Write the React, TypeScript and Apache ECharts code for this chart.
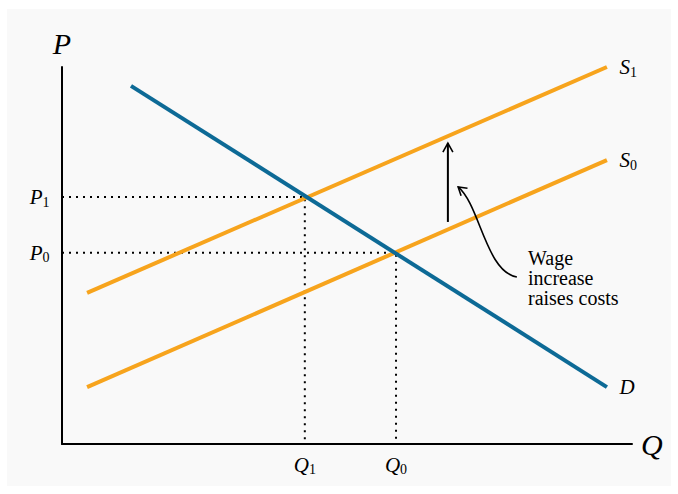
import React, { useEffect, useRef } from "react";
import * as echarts from "echarts";

// Curves (quantity, price) in axis units 0..100
const demandCurve: number[][] = [[12.1, 95.0], [95.6, 15.1]];
const supplyCurve0: number[][] = [[4.4, 15.1], [95.6, 75.3]];
const supplyCurve1: number[][] = [[4.4, 40.1], [95.6, 100]];

// Equilibria
const equilibrium0: number[] = [58.6, 50.7];
const equilibrium1: number[] = [42.6, 65.5];

// Labels
const priceLabels = ["P|0", "P|1"];
const quantityLabels = ["Q|0", "Q|1"];
const curveLabels = ["S|1", "S|0", "D|"];

// Annotation
const shiftArrow: number[][] = [[67.7, 58.9], [67.7, 79.8]];
const noteCurve: number[][] = [[79.8, 44.3], [74.4, 45.6], [73.3, 63.4], [69.5, 68.2]];
const noteAnchor: number[] = [81.75, 51.7];
const noteText = "Wage\nincrease\nraises costs";

const SERIF = "'Liberation Serif', 'DejaVu Serif', serif";
const INK = "#000000";
const ORANGE = "#f7a41d";
const BLUE = "#0d6a96";

function rich(lbl: string) {
  const [m, s] = lbl.split("|");
  return s ? `{i|${m}}{s|${s}}` : `{i|${m}}`;
}

const richStyles = {
  i: { fontFamily: SERIF, fontStyle: "italic", fontSize: 21, color: INK, lineHeight: 24, textBorderWidth: 0, opacity: 1 },
  s: { fontFamily: SERIF, fontSize: 14, color: INK, lineHeight: 14, verticalAlign: "bottom", textBorderWidth: 0, opacity: 1 },
};

function chevron(tip: number[], from: number[], L = 9, W = 5) {
  const dx = tip[0] - from[0];
  const dy = tip[1] - from[1];
  const len = Math.hypot(dx, dy) || 1;
  const ux = dx / len, uy = dy / len;
  const nx = -uy, ny = ux;
  return [
    [tip[0] - ux * L + nx * W, tip[1] - uy * L + ny * W],
    tip,
    [tip[0] - ux * L - nx * W, tip[1] - uy * L - ny * W],
  ];
}

export default function App() {
  const ref = useRef<HTMLDivElement>(null);
  useEffect(() => {
    if (!ref.current) return;
    const chart = echarts.init(ref.current, undefined, { renderer: "svg" });
    const curveEnds = [supplyCurve1, supplyCurve0, demandCurve].map((c, k) => ({
      value: c[c.length - 1],
      label: { formatter: rich(curveLabels[k]) },
    }));
    const pricePts = [equilibrium0, equilibrium1].map((e, k) => ({
      value: [0, e[1]],
      label: { formatter: rich(priceLabels[k]) },
    }));
    const qtyPts = [equilibrium0, equilibrium1].map((e, k) => ({
      value: [e[0], 0],
      label: { formatter: rich(quantityLabels[k]) },
    }));
    const labelSeries = (data: any[], position: string, distance: number) => ({
      type: "scatter",
      symbol: "circle",
      symbolSize: 1,
      itemStyle: { color: "rgba(0,0,0,0)", opacity: 1 },
      silent: true,
      z: 5,
      label: {
        show: true,
        position,
        distance,
        color: INK,
        opacity: 1,
        textBorderWidth: 0,
        rich: richStyles,
      },
      data,
    });
    const option: any = {
      animation: false,
      backgroundColor: "#ffffff",
      graphic: [
        {
          type: "rect",
          z: -10,
          silent: true,
          shape: { x: 7, y: 9, width: 664, height: 477 },
          style: { fill: "#f9f9f9" },
        },
      ],
      grid: { left: 62, top: 67, right: 46, bottom: 50, containLabel: false },
      xAxis: {
        type: "value",
        min: 0,
        max: 100,
        name: "Q",
        nameLocation: "end",
        nameGap: 9,
        nameTextStyle: { fontFamily: SERIF, fontStyle: "italic", fontSize: 30, color: INK, verticalAlign: "middle" },
        axisLine: { show: true, onZero: false, lineStyle: { color: INK, width: 2 } },
        axisTick: { show: false },
        axisLabel: { show: false },
        splitLine: { show: false },
      },
      yAxis: {
        type: "value",
        min: 0,
        max: 100,
        name: "P",
        nameLocation: "end",
        nameGap: 9,
        nameTextStyle: { fontFamily: SERIF, fontStyle: "italic", fontSize: 30, color: INK, align: "center" },
        axisLine: { show: true, onZero: false, lineStyle: { color: INK, width: 2 } },
        axisTick: { show: false },
        axisLabel: { show: false },
        splitLine: { show: false },
      },
      series: [
        ...[equilibrium0, equilibrium1].map((e) => ({
          type: "line",
          data: [[0, e[1]], [e[0], e[1]], [e[0], 0]],
          showSymbol: false,
          symbol: "none",
          silent: true,
          z: 1,
          lineStyle: { color: INK, width: 2, type: [2, 5], cap: "butt" },
        })),
        {
          type: "line",
          data: supplyCurve0,
          showSymbol: false,
          symbol: "none",
          z: 2,
          lineStyle: { color: ORANGE, width: 4, cap: "butt" },
        },
        {
          type: "line",
          data: supplyCurve1,
          showSymbol: false,
          symbol: "none",
          z: 2,
          lineStyle: { color: ORANGE, width: 4, cap: "butt" },
        },
        {
          type: "line",
          data: demandCurve,
          showSymbol: false,
          symbol: "none",
          z: 3,
          lineStyle: { color: BLUE, width: 4, cap: "butt" },
        },
        labelSeries(curveEnds, "right", 12),
        labelSeries(pricePts, "left", 12),
        labelSeries(qtyPts, "bottom", 8),
        {
          type: "custom",
          coordinateSystem: "cartesian2d",
          silent: true,
          clip: false,
          z: 6,
          data: [[0, 0]],
          renderItem: (_p: any, api: any) => {
            const a = api.coord(shiftArrow[0]);
            const b = api.coord(shiftArrow[1]);
            const c = noteCurve.map((pt) => api.coord(pt));
            const t = api.coord(noteAnchor);
            return {
              type: "group",
              children: [
                { type: "line", shape: { x1: a[0], y1: a[1], x2: b[0], y2: b[1] }, style: { stroke: INK, lineWidth: 2 } },
                { type: "polyline", shape: { points: chevron(b, a, 9, 5) }, style: { stroke: INK, lineWidth: 1.6, fill: "none" } },
                {
                  type: "bezierCurve",
                  shape: {
                    x1: c[0][0], y1: c[0][1],
                    cpx1: c[1][0], cpy1: c[1][1],
                    cpx2: c[2][0], cpy2: c[2][1],
                    x2: c[3][0], y2: c[3][1],
                  },
                  style: { stroke: INK, lineWidth: 1.6, fill: "none" },
                },
                { type: "polyline", shape: { points: chevron(c[3], c[2], 8, 5) }, style: { stroke: INK, lineWidth: 1.6, fill: "none" } },
                {
                  type: "text",
                  x: t[0],
                  y: t[1] - 1,
                  style: {
                    text: noteText,
                    fontFamily: SERIF,
                    fontSize: 20,
                    lineHeight: 20,
                    fill: INK,
                    align: "left",
                    verticalAlign: "top",
                  },
                },
              ],
            };
          },
        },
      ],
    };
    chart.setOption(option);
    return () => chart.dispose();
  }, []);
  return (
    <div
      ref={ref}
      style={{ position: "fixed", left: 0, top: 0, width: 678, height: 494 }}
    />
  );
}
